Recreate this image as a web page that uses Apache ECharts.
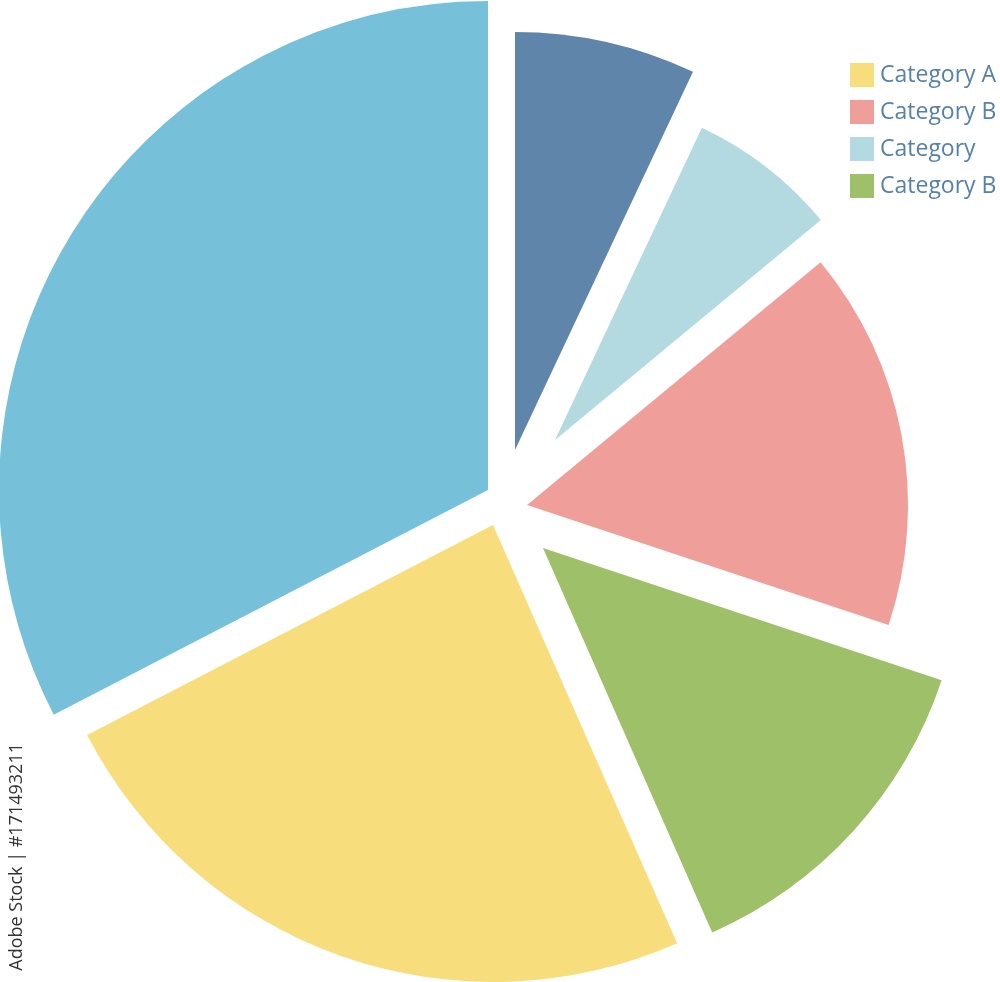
<!DOCTYPE html>
<html>
<head>
<meta charset="utf-8">
<script src="https://cdn.jsdelivr.net/npm/echarts@6/dist/echarts.min.js"></script>
<style>
html,body{margin:0;padding:0;background:#fff;}
#chart{width:1000px;height:982px;}
</style>
</head>
<body>
<div id="chart"></div>
<script>
// Slices clockwise from 12 o'clock
const sliceNames = ["Slice 1", "Category", "Category B", "Category B ", "Category A", "Slice 6"];
const sliceValues = [7.0, 7.0, 16.1, 13.3, 24.0, 32.6];
const sliceColors = ["#5F86AA", "#B3DAE1", "#F09E9A", "#9DC068", "#F8DD7C", "#76C1D9"];
// exploded layout of each slice (apex position and radius, in px)
const sliceCenters = [[515, 450], [555, 440], [527, 505], [543, 548], [493, 525], [488, 490]];
const sliceRadii = [418, 345, 381, 420, 457, 489];
const legendNames = ["Category A", "Category B", "Category", "Category B "];
const watermarkText = "Adobe Stock | #171493211";

const chart = echarts.init(document.getElementById('chart'));

const series = sliceValues.map((_, k) => ({
  type: 'pie',
  center: sliceCenters[k],
  radius: [0, sliceRadii[k]],
  startAngle: 90,
  clockwise: true,
  silent: true,
  label: {show: false},
  labelLine: {show: false},
  emphasis: {disabled: true},
  z: 2,
  data: sliceValues.map((v, i) => ({
    value: v,
    name: i === k ? sliceNames[i] : ('_hidden_' + k + '_' + i),
    itemStyle: {color: i === k ? sliceColors[i] : 'rgba(0,0,0,0)', borderWidth: 0}
  }))
}));

chart.setOption({
  animation: false,
  backgroundColor: '#ffffff',
  legend: {
    show: true,
    orient: 'vertical',
    left: 845,
    top: 58,
    itemWidth: 24,
    itemHeight: 24,
    itemGap: 13,
    icon: 'rect',
    selectedMode: false,
    data: legendNames,
    textStyle: {
      fontSize: 23,
      color: '#5681A8',
      fontFamily: 'Open Sans',
      padding: [0, 0, 0, 1]
    }
  },
  graphic: [{
    type: 'text',
    left: 8,
    top: 743,
    rotation: Math.PI / 2,
    style: {
      text: watermarkText,
      fontSize: 18,
      fontFamily: 'Open Sans',
      fill: '#333333'
    }
  }],
  series: series
});
</script>
</body>
</html>
